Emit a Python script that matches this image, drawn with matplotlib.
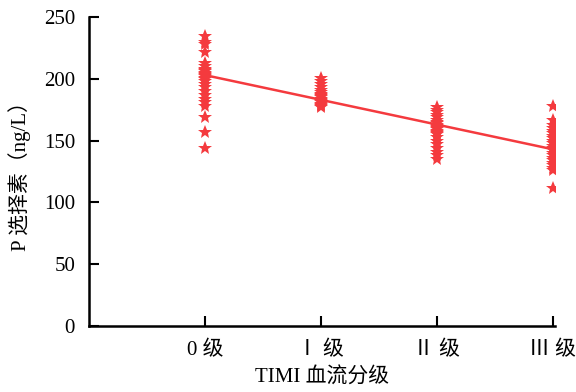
import matplotlib
matplotlib.use("Agg")
import matplotlib.pyplot as plt

plt.rcParams['font.family'] = ['Liberation Serif', 'Noto Sans CJK SC', 'DejaVu Sans']

categories = ['0 级', 'Ⅰ 级', 'Ⅱ 级', 'Ⅲ 级']
group0 = [235, 230, 228, 222, 213, 210, 208, 207, 206, 205, 204, 203, 202, 201, 200,
          198, 196, 193, 190, 187, 184, 181, 178, 169, 157, 144]
group1 = [201, 198, 196, 193, 191, 189, 188, 187, 186, 185, 184, 183, 182, 181, 180,
          179, 178, 177]
group2 = [177, 175, 173, 171, 169, 167, 165, 164, 163, 162, 161, 160, 159, 158, 157,
          156, 155, 153, 150, 147, 144, 141, 138, 135]
group3 = [178, 167, 163, 160, 158, 156, 154, 152, 150, 148, 146, 144, 142, 140, 138,
          136, 134, 132, 130, 128, 126, 112]
trend = [203, 183, 163, 143]
yticks = [0, 50, 100, 150, 200, 250]

color = '#f43a3e'
fig = plt.figure(figsize=(5.76, 3.92), dpi=100)
ax = fig.add_axes([0.1545, 0.1684, 0.809, 0.7882])

groups = [group0, group1, group2, group3]
for i, g in enumerate(groups):
    ax.plot([i] * len(g), g, linestyle='none', marker='*', markersize=10,
            color=color, markeredgewidth=0)
ax.plot(range(len(trend)), trend, color=color, linewidth=1.8)

ax.set_xlim(-1, 3.02)
ax.set_ylim(0, 250)
ax.set_xticks(range(len(categories)))
ax.set_xticklabels(categories, fontsize=15)
ax.set_yticks(yticks)
ax.set_yticklabels([str(v) for v in yticks], fontsize=15)
ax.tick_params(axis='y', direction='in', length=7, width=1.5, pad=10)
ax.tick_params(axis='x', direction='in', length=7, width=1.5, pad=11)
for s in ['top', 'right']:
    ax.spines[s].set_visible(False)
for s in ['left', 'bottom']:
    ax.spines[s].set_linewidth(1.8)
ax.set_xlabel('TIMI 血流分级', fontsize=15, labelpad=5)
ax.set_ylabel('P 选择素（ng/L）', fontsize=15, labelpad=9)

fig.savefig('out.png', dpi=100)
